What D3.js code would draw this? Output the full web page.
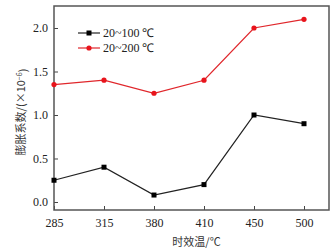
<!DOCTYPE html>
<html>
<head>
<meta charset="utf-8">
<script src="https://cdn.jsdelivr.net/npm/d3@7"></script>
<style>
  body { margin: 0; background: #fff; }
  text { font-family: "Liberation Serif", "Times New Roman", serif; }
  .cjk { font-family: "Noto Sans CJK SC", sans-serif; }
</style>
</head>
<body>
<div id="chart"></div>
<script>
// aging temperature categories and expansion coefficients
const temps = ["285", "315", "380", "410", "450", "500"];
const range100 = [0.25, 0.40, 0.08, 0.20, 1.00, 0.90];
const range200 = [1.35, 1.40, 1.25, 1.40, 2.00, 2.10];
const yTicks = [0.0, 0.5, 1.0, 1.5, 2.0];
const seriesNames = ["20~100 ℃", "20~200 ℃"];

const width = 335, height = 251;
const plot = { left: 54, right: 329, top: 6, bottom: 210 };

const svg = d3.select("#chart").append("svg")
  .attr("width", width)
  .attr("height", height);

const x = d3.scalePoint().domain(temps).range([plot.left, plot.right - 25]);
const y = d3.scaleLinear().domain([-0.092, 2.253]).range([plot.bottom, plot.top]);

// axes with inward ticks
const xAxis = svg.append("g")
  .attr("transform", `translate(0,${plot.bottom})`)
  .call(d3.axisBottom(x).tickSizeInner(-4).tickSizeOuter(0).tickPadding(8));
const yAxis = svg.append("g")
  .attr("transform", `translate(${plot.left},0)`)
  .call(d3.axisLeft(y).tickValues(yTicks).tickFormat(d3.format(".1f")).tickSizeInner(-4).tickSizeOuter(0).tickPadding(6));

[xAxis, yAxis].forEach(g => {
  g.select(".domain").remove();
  g.selectAll(".tick line").attr("stroke", "#444").attr("stroke-width", 1);
  g.selectAll(".tick text")
    .attr("fill", "#222")
    .attr("font-size", "12px")
    .style("font-family", "'Liberation Serif', serif");
});

// frame
svg.append("rect")
  .attr("x", plot.left)
  .attr("y", plot.top)
  .attr("width", plot.right - plot.left)
  .attr("height", plot.bottom - plot.top)
  .attr("fill", "none")
  .attr("stroke", "#555")
  .attr("stroke-width", 1.5);

const line = d3.line()
  .x((d, i) => x(temps[i]))
  .y(d => y(d));

// 20~200 series (red circles)
svg.append("path")
  .datum(range200)
  .attr("d", line)
  .attr("fill", "none")
  .attr("stroke", "#e0262b")
  .attr("stroke-width", 1.2);
svg.selectAll(".dot200")
  .data(range200)
  .enter().append("circle")
  .attr("class", "dot200")
  .attr("cx", (d, i) => x(temps[i]))
  .attr("cy", d => y(d))
  .attr("r", 2.6)
  .attr("fill", "#e8141c");

// 20~100 series (black squares)
svg.append("path")
  .datum(range100)
  .attr("d", line)
  .attr("fill", "none")
  .attr("stroke", "#222")
  .attr("stroke-width", 1.2);
svg.selectAll(".sq100")
  .data(range100)
  .enter().append("rect")
  .attr("class", "sq100")
  .attr("x", (d, i) => x(temps[i]) - 2.5)
  .attr("y", d => y(d) - 2.5)
  .attr("width", 5)
  .attr("height", 5)
  .attr("fill", "#000");

// legend
const legend = svg.append("g").attr("transform", "translate(78,33)");
seriesNames.forEach((name, i) => {
  const row = legend.append("g").attr("transform", `translate(0,${i * 15})`);
  const color = i === 0 ? "#222" : "#e0262b";
  row.append("line")
    .attr("x1", 0).attr("x2", 22)
    .attr("stroke", color)
    .attr("stroke-width", 1.2);
  if (i === 0) {
    row.append("rect").attr("x", 8.5).attr("y", -2.5).attr("width", 5).attr("height", 5).attr("fill", "#000");
  } else {
    row.append("circle").attr("cx", 11).attr("r", 2.6).attr("fill", "#e8141c");
  }
  row.append("text")
    .attr("x", 25)
    .attr("dy", "0.35em")
    .attr("font-size", "12px")
    .attr("fill", "#222")
    .text(name);
});

// axis titles
svg.append("text")
  .attr("class", "cjk")
  .attr("x", (plot.left + plot.right) / 2 + 5)
  .attr("y", 246)
  .attr("text-anchor", "middle")
  .attr("font-size", "11px")
  .attr("fill", "#333")
  .text("时效温/℃");

const yTitle = svg.append("text")
  .attr("class", "cjk")
  .attr("transform", `translate(25,${(plot.top + plot.bottom) / 2 + 4}) rotate(-90)`)
  .attr("text-anchor", "middle")
  .attr("font-size", "11px")
  .attr("fill", "#333");
yTitle.append("tspan").text("膨胀系数/(×10");
yTitle.append("tspan").attr("dy", "-0.4em").attr("font-size", "7px").text("−6");
yTitle.append("tspan").attr("dy", "0.4em").text(")");
</script>
</body>
</html>
